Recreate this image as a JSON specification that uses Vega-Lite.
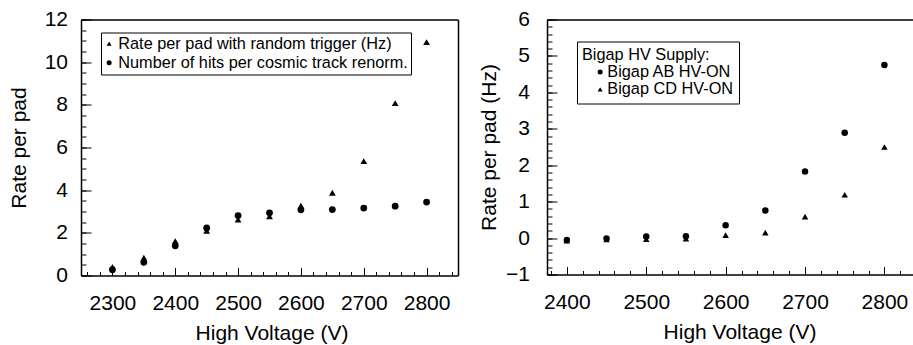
{
  "$schema": "https://vega.github.io/schema/vega-lite/v6.json",
  "background": "white",
  "padding": {"left": 8, "top": 8.5, "right": 0, "bottom": 0},
  "bounds": "flush",
  "spacing": 89,
  "resolve": {"scale": {"shape": "independent"}, "legend": {"shape": "independent"}},
  "config": {
    "font": "Liberation Sans",
    "view": {"stroke": null},
    "axis": {"labelColor": "black", "titleColor": "black", "tickColor": "black", "domainColor": "black", "grid": false, "zindex": 1, "labelFont": "Liberation Sans", "titleFont": "Liberation Sans"},
    "legend": {"labelColor": "black", "titleColor": "black", "labelFont": "Liberation Sans", "titleFont": "Liberation Sans"}
  },
  "hconcat": [
    {
      "width": 377,
      "height": 256,
      "data": {"values": [
        {"hv": 2300, "rate": 0.40, "series": "Rate per pad with random trigger (Hz)"},
        {"hv": 2350, "rate": 0.83, "series": "Rate per pad with random trigger (Hz)"},
        {"hv": 2400, "rate": 1.61, "series": "Rate per pad with random trigger (Hz)"},
        {"hv": 2450, "rate": 2.10, "series": "Rate per pad with random trigger (Hz)"},
        {"hv": 2500, "rate": 2.62, "series": "Rate per pad with random trigger (Hz)"},
        {"hv": 2550, "rate": 2.78, "series": "Rate per pad with random trigger (Hz)"},
        {"hv": 2600, "rate": 3.27, "series": "Rate per pad with random trigger (Hz)"},
        {"hv": 2650, "rate": 3.88, "series": "Rate per pad with random trigger (Hz)"},
        {"hv": 2700, "rate": 5.36, "series": "Rate per pad with random trigger (Hz)"},
        {"hv": 2750, "rate": 8.08, "series": "Rate per pad with random trigger (Hz)"},
        {"hv": 2800, "rate": 10.94, "series": "Rate per pad with random trigger (Hz)"},
        {"hv": 2300, "rate": 0.27, "series": "Number of hits per cosmic track renorm."},
        {"hv": 2350, "rate": 0.62, "series": "Number of hits per cosmic track renorm."},
        {"hv": 2400, "rate": 1.39, "series": "Number of hits per cosmic track renorm."},
        {"hv": 2450, "rate": 2.23, "series": "Number of hits per cosmic track renorm."},
        {"hv": 2500, "rate": 2.81, "series": "Number of hits per cosmic track renorm."},
        {"hv": 2550, "rate": 2.94, "series": "Number of hits per cosmic track renorm."},
        {"hv": 2600, "rate": 3.08, "series": "Number of hits per cosmic track renorm."},
        {"hv": 2650, "rate": 3.09, "series": "Number of hits per cosmic track renorm."},
        {"hv": 2700, "rate": 3.16, "series": "Number of hits per cosmic track renorm."},
        {"hv": 2750, "rate": 3.25, "series": "Number of hits per cosmic track renorm."},
        {"hv": 2800, "rate": 3.44, "series": "Number of hits per cosmic track renorm."}
      ]},
      "layer": [
        {
          "mark": {"type": "point", "filled": true, "opacity": 1, "size": 46, "color": "black"},
          "encoding": {
            "x": {"field": "hv", "type": "quantitative", "scale": {"domain": [2250, 2850], "nice": false, "zero": false},
              "axis": {"orient": "bottom", "zindex": 1, "values": [2300, 2400, 2500, 2600, 2700, 2800], "format": "d", "labelFontSize": 21, "labelPadding": 16.5, "ticks": false, "domain": true, "domainWidth": 1.5, "labelFlush": false, "labelOverlap": false, "labelBound": false,
                "title": "High Voltage (V)", "titleFontSize": 21, "titleFontWeight": "normal", "titleX": 190.5, "titleY": 58, "titleBaseline": "middle", "titleAlign": "center"}},
            "y": {"field": "rate", "type": "quantitative", "scale": {"domain": [0, 12], "nice": false, "zero": false},
              "axis": {"orient": "left", "zindex": 1, "values": [0, 2, 4, 6, 8, 10, 12], "format": "d", "labelFontSize": 21, "labelPadding": 13.5, "ticks": false, "domain": true, "domainWidth": 1.5, "labelFlush": false, "labelOverlap": false, "labelBound": false,
                "title": "Rate per pad", "titleFontSize": 21, "titleFontWeight": "normal", "titleX": -61.7, "titleY": 128, "titleBaseline": "middle", "titleAlign": "center", "titleAngle": -90}},
            "shape": {"field": "series", "type": "nominal",
              "scale": {"domain": ["Rate per pad with random trigger (Hz)", "Number of hits per cosmic track renorm."], "range": ["triangle-up", "circle"]},
              "legend": {"orient": "none", "legendX": 20, "legendY": 13, "title": null, "strokeColor": "black", "padding": 3, "labelFontSize": 16.3, "symbolSize": 25, "symbolFillColor": "black", "symbolStrokeWidth": 0, "symbolOffset": -3, "labelOffset": 1, "rowPadding": 2, "labelLimit": 0}}
          }
        },
        {
          "mark": {"type": "point", "opacity": 0},
          "encoding": {
            "x": {"field": "hv", "type": "quantitative", "scale": {"domain": [2250, 2850], "nice": false, "zero": false},
              "axis": {"orient": "bottom", "zindex": 1, "offset": -8, "values": [2300, 2400, 2500, 2600, 2700, 2800], "labels": false, "ticks": true, "tickSize": 8, "tickWidth": 1, "domain": false, "title": null}},
            "y": {"field": "rate", "type": "quantitative", "scale": {"domain": [0, 12], "nice": false, "zero": false},
              "axis": {"orient": "left", "zindex": 1, "offset": -10, "values": [0, 2, 4, 6, 8, 10, 12], "labels": false, "ticks": true, "tickSize": 10, "tickWidth": 1, "domain": false, "title": null}}
          }
        },
        {
          "mark": {"type": "point", "opacity": 0},
          "encoding": {
            "x": {"field": "hv", "type": "quantitative", "scale": {"domain": [2250, 2850], "nice": false, "zero": false},
              "axis": {"orient": "bottom", "zindex": 1, "offset": -4, "values": [2260, 2280, 2300, 2320, 2340, 2360, 2380, 2400, 2420, 2440, 2460, 2480, 2500, 2520, 2540, 2560, 2580, 2600, 2620, 2640, 2660, 2680, 2700, 2720, 2740, 2760, 2780, 2800, 2820, 2840], "labels": false, "ticks": true, "tickSize": 4, "tickWidth": 1, "domain": false, "title": null}},
            "y": {"field": "rate", "type": "quantitative", "scale": {"domain": [0, 12], "nice": false, "zero": false},
              "axis": {"orient": "left", "zindex": 1, "offset": -5, "values": [0, 0.5, 1, 1.5, 2, 2.5, 3, 3.5, 4, 4.5, 5, 5.5, 6, 6.5, 7, 7.5, 8, 8.5, 9, 9.5, 10, 10.5, 11, 11.5, 12], "labels": false, "ticks": true, "tickSize": 5, "tickWidth": 1, "domain": false, "title": null}}
          }
        },
        {
          "mark": {"type": "point", "opacity": 0},
          "encoding": {
            "x": {"field": "hv", "type": "quantitative", "scale": {"domain": [2250, 2850], "nice": false, "zero": false},
              "axis": {"orient": "top", "zindex": 1, "labels": false, "ticks": false, "domain": true, "domainWidth": 1.5, "title": null}},
            "y": {"field": "rate", "type": "quantitative", "scale": {"domain": [0, 12], "nice": false, "zero": false},
              "axis": {"orient": "right", "zindex": 1, "labels": false, "ticks": false, "domain": true, "domainWidth": 1.5, "title": null}}
          }
        }
      ],
      "resolve": {"axis": {"x": "independent", "y": "independent"}}
    },
    {
      "width": 366,
      "height": 255,
      "data": {"values": [
        {"hv": 2400, "rate": -0.05, "supply": "Bigap AB HV-ON"},
        {"hv": 2450, "rate": -0.01, "supply": "Bigap AB HV-ON"},
        {"hv": 2500, "rate": 0.04, "supply": "Bigap AB HV-ON"},
        {"hv": 2550, "rate": 0.05, "supply": "Bigap AB HV-ON"},
        {"hv": 2600, "rate": 0.35, "supply": "Bigap AB HV-ON"},
        {"hv": 2650, "rate": 0.76, "supply": "Bigap AB HV-ON"},
        {"hv": 2700, "rate": 1.83, "supply": "Bigap AB HV-ON"},
        {"hv": 2750, "rate": 2.89, "supply": "Bigap AB HV-ON"},
        {"hv": 2800, "rate": 4.75, "supply": "Bigap AB HV-ON"},
        {"hv": 2400, "rate": -0.07, "supply": "Bigap CD HV-ON"},
        {"hv": 2450, "rate": -0.04, "supply": "Bigap CD HV-ON"},
        {"hv": 2500, "rate": -0.03, "supply": "Bigap CD HV-ON"},
        {"hv": 2550, "rate": -0.02, "supply": "Bigap CD HV-ON"},
        {"hv": 2600, "rate": 0.08, "supply": "Bigap CD HV-ON"},
        {"hv": 2650, "rate": 0.15, "supply": "Bigap CD HV-ON"},
        {"hv": 2700, "rate": 0.59, "supply": "Bigap CD HV-ON"},
        {"hv": 2750, "rate": 1.19, "supply": "Bigap CD HV-ON"},
        {"hv": 2800, "rate": 2.50, "supply": "Bigap CD HV-ON"}
      ]},
      "layer": [
        {
          "mark": {"type": "point", "filled": true, "opacity": 1, "size": 42, "color": "black"},
          "encoding": {
            "x": {"field": "hv", "type": "quantitative", "scale": {"domain": [2375, 2836], "nice": false, "zero": false},
              "axis": {"orient": "bottom", "zindex": 1, "values": [2400, 2500, 2600, 2700, 2800], "format": "d", "labelFontSize": 21, "labelPadding": 16.5, "ticks": false, "domain": true, "domainWidth": 1.5, "labelFlush": false, "labelOverlap": false, "labelBound": false,
                "title": "High Voltage (V)", "titleFontSize": 21, "titleFontWeight": "normal", "titleX": 192.5, "titleY": 58, "titleBaseline": "middle", "titleAlign": "center"}},
            "y": {"field": "rate", "type": "quantitative", "scale": {"domain": [-1, 6], "nice": false, "zero": false},
              "axis": {"orient": "left", "zindex": 1, "values": [-1, 0, 1, 2, 3, 4, 5, 6], "format": "d", "labelFontSize": 21, "labelPadding": 17.5, "ticks": false, "domain": true, "domainWidth": 1.5, "labelFlush": false, "labelOverlap": false, "labelBound": false,
                "title": "Rate per pad (Hz)", "titleFontSize": 21, "titleFontWeight": "normal", "titleX": -57.7, "titleY": 127.5, "titleBaseline": "middle", "titleAlign": "center", "titleAngle": -90}},
            "shape": {"field": "supply", "type": "nominal",
              "scale": {"domain": ["Bigap AB HV-ON", "Bigap CD HV-ON"], "range": ["circle", "triangle-up"]},
              "legend": {"orient": "none", "legendX": 30, "legendY": 22, "title": "Bigap HV Supply:", "titleFontSize": 16.3, "titleFontWeight": "normal", "titlePadding": 1, "strokeColor": "black", "padding": 5, "labelFontSize": 16.3, "symbolSize": 25, "symbolFillColor": "black", "symbolStrokeWidth": 0, "symbolOffset": 10, "labelOffset": -1, "rowPadding": 0.5, "labelLimit": 0}}
          }
        },
        {
          "mark": {"type": "point", "opacity": 0},
          "encoding": {
            "x": {"field": "hv", "type": "quantitative", "scale": {"domain": [2375, 2836], "nice": false, "zero": false},
              "axis": {"orient": "bottom", "zindex": 1, "offset": -8, "values": [2400, 2500, 2600, 2700, 2800], "labels": false, "ticks": true, "tickSize": 8, "tickWidth": 1, "domain": false, "title": null}},
            "y": {"field": "rate", "type": "quantitative", "scale": {"domain": [-1, 6], "nice": false, "zero": false},
              "axis": {"orient": "left", "zindex": 1, "offset": -10, "values": [-1, 0, 1, 2, 3, 4, 5, 6], "labels": false, "ticks": true, "tickSize": 10, "tickWidth": 1, "domain": false, "title": null}}
          }
        },
        {
          "mark": {"type": "point", "opacity": 0},
          "encoding": {
            "x": {"field": "hv", "type": "quantitative", "scale": {"domain": [2375, 2836], "nice": false, "zero": false},
              "axis": {"orient": "bottom", "zindex": 1, "offset": -4, "values": [2380, 2400, 2420, 2440, 2460, 2480, 2500, 2520, 2540, 2560, 2580, 2600, 2620, 2640, 2660, 2680, 2700, 2720, 2740, 2760, 2780, 2800, 2820], "labels": false, "ticks": true, "tickSize": 4, "tickWidth": 1, "domain": false, "title": null}},
            "y": {"field": "rate", "type": "quantitative", "scale": {"domain": [-1, 6], "nice": false, "zero": false},
              "axis": {"orient": "left", "zindex": 1, "offset": -5, "values": [-1, -0.8, -0.6, -0.4, -0.2, 0, 0.2, 0.4, 0.6, 0.8, 1, 1.2, 1.4, 1.6, 1.8, 2, 2.2, 2.4, 2.6, 2.8, 3, 3.2, 3.4, 3.6, 3.8, 4, 4.2, 4.4, 4.6, 4.8, 5, 5.2, 5.4, 5.6, 5.8, 6], "labels": false, "ticks": true, "tickSize": 5, "tickWidth": 1, "domain": false, "title": null}}
          }
        },
        {
          "mark": {"type": "point", "opacity": 0},
          "encoding": {
            "x": {"field": "hv", "type": "quantitative", "scale": {"domain": [2375, 2836], "nice": false, "zero": false},
              "axis": {"orient": "top", "zindex": 1, "labels": false, "ticks": false, "domain": true, "domainWidth": 1.5, "title": null}},
            "y": {"field": "rate", "type": "quantitative", "scale": {"domain": [-1, 6], "nice": false, "zero": false}, "axis": null}
          }
        }
      ],
      "resolve": {"axis": {"x": "independent", "y": "independent"}}
    }
  ]
}
